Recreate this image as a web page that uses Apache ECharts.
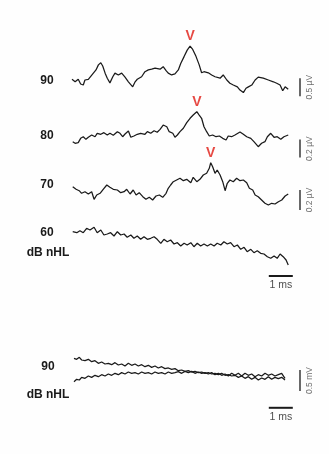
<!DOCTYPE html>
<html>
<head>
<meta charset="utf-8">
<script src="https://cdn.jsdelivr.net/npm/echarts@6/dist/echarts.min.js"></script>
<style>
  html, body { margin: 0; padding: 0; background: #fefefe; }
  #chart { width: 329px; height: 454px; }
</style>
</head>
<body>
<div id="chart"></div>
<script>
// ABR recordings: time in ms after stimulus, amplitude in µV (bottom panel in mV)
const levels = ['90', '80', '70', '60'];

const t90 = [0.00,0.13,0.26,0.36,0.47,0.54,0.68,0.75,0.89,1.00,1.10,1.20,1.28,1.38,1.47,1.58,1.70,1.79,1.93,2.07,2.21,2.35,2.53,2.63,2.72,2.90,3.04,3.18,3.32,3.46,3.67,3.80,3.92,4.01,4.15,4.29,4.43,4.53,4.67,4.80,4.92,5.03,5.17,5.30,5.40,5.50,5.68,5.82,5.96,6.17,6.30,6.45,6.58,6.72,6.89,7.00,7.14,7.25,7.35,7.49,7.63,7.76,7.97,8.18,8.39,8.53,8.67,8.78,8.88,9.01];
const v90 = [0.02,-0.05,0.02,-0.11,-0.14,0.00,0.02,-0.03,0.19,0.28,0.42,0.48,0.39,0.19,0.05,-0.08,0.09,0.19,0.14,0.19,0.08,-0.05,-0.19,-0.05,0.02,0.09,0.23,0.28,0.30,0.33,0.30,0.37,0.26,0.19,0.14,0.17,0.28,0.46,0.65,0.83,0.94,0.85,0.65,0.42,0.20,0.23,0.20,0.14,0.09,0.05,0.14,0.00,-0.09,-0.14,-0.19,-0.28,-0.35,-0.23,-0.19,-0.14,0.00,0.08,0.05,0.00,-0.05,-0.09,-0.14,-0.30,-0.19,-0.26];

const t80 = [0.03,0.13,0.26,0.36,0.47,0.58,0.68,0.82,0.96,1.05,1.20,1.33,1.47,1.58,1.72,1.89,2.00,2.11,2.21,2.35,2.45,2.58,2.72,2.86,3.04,3.14,3.28,3.42,3.55,3.67,3.80,3.95,4.05,4.20,4.29,4.39,4.50,4.64,4.78,4.92,5.05,5.20,5.30,5.40,5.50,5.61,5.72,5.86,6.00,6.14,6.28,6.42,6.51,6.65,6.79,7.00,7.14,7.28,7.45,7.58,7.76,7.90,8.04,8.14,8.28,8.42,8.55,8.70,8.83,9.01];
const v80 = [-0.063,-0.081,-0.074,-0.026,-0.008,-0.037,-0.014,0.011,-0.008,0.030,0.019,0.037,0.011,0.030,0.008,0.048,0.030,-0.008,0.022,0.056,-0.014,0.000,0.019,0.030,0.019,0.048,0.030,0.059,0.041,0.074,0.122,0.103,0.048,0.030,-0.014,0.011,0.048,0.086,0.148,0.197,0.233,0.270,0.233,0.197,0.103,0.048,0.000,0.011,-0.008,0.000,-0.026,-0.044,0.000,-0.008,0.011,0.044,0.019,-0.008,-0.026,-0.063,-0.119,-0.081,-0.063,-0.008,0.030,-0.014,-0.008,-0.037,-0.008,0.011];

const t70 = [0.03,0.17,0.30,0.40,0.54,0.68,0.82,0.92,1.03,1.17,1.30,1.45,1.58,1.72,1.89,2.03,2.17,2.28,2.42,2.55,2.67,2.80,2.95,3.08,3.22,3.36,3.50,3.64,3.78,3.92,4.01,4.11,4.22,4.36,4.50,4.64,4.78,4.95,5.05,5.20,5.33,5.47,5.61,5.72,5.78,5.86,5.96,6.05,6.17,6.28,6.38,6.47,6.58,6.72,6.86,7.00,7.14,7.28,7.39,7.53,7.63,7.76,7.90,8.04,8.18,8.32,8.46,8.60,8.74,8.88,9.01];
const v70 = [0.033,0.007,-0.007,-0.033,-0.017,-0.040,-0.017,-0.093,-0.050,-0.033,0.007,0.050,0.027,0.007,0.000,-0.027,-0.017,0.007,-0.040,0.000,-0.050,-0.027,-0.067,-0.093,-0.073,-0.100,-0.060,-0.050,-0.073,-0.033,0.017,0.050,0.083,0.100,0.117,0.093,0.107,0.073,0.127,0.083,0.107,0.150,0.167,0.217,0.273,0.233,0.167,0.200,0.150,0.083,-0.007,0.067,0.100,0.083,0.117,0.093,0.100,0.073,0.017,0.000,-0.050,-0.067,-0.100,-0.133,-0.150,-0.133,-0.140,-0.117,-0.100,-0.060,-0.040];

const t60 = [0.03,0.20,0.33,0.47,0.61,0.75,0.92,1.05,1.20,1.33,1.47,1.61,1.75,1.89,2.03,2.17,2.30,2.45,2.58,2.72,2.86,3.00,3.14,3.28,3.42,3.55,3.70,3.83,3.97,4.11,4.25,4.39,4.53,4.67,4.80,4.95,5.08,5.22,5.36,5.50,5.64,5.78,5.92,6.05,6.20,6.33,6.47,6.61,6.75,6.89,7.03,7.17,7.30,7.45,7.58,7.72,7.86,8.00,8.14,8.28,8.42,8.55,8.67,8.80,8.92,9.01];
const v60 = [0.083,0.073,0.093,0.073,0.117,0.100,0.127,0.073,0.100,0.050,0.060,0.073,0.040,0.083,0.050,0.060,0.027,0.050,0.017,0.040,0.007,0.033,0.007,0.017,0.033,0.007,-0.033,0.007,-0.017,0.000,-0.040,-0.027,-0.060,-0.033,-0.050,-0.027,-0.067,-0.033,-0.060,-0.040,-0.060,-0.040,-0.060,-0.033,-0.050,-0.017,-0.040,-0.027,-0.067,-0.050,-0.093,-0.073,-0.117,-0.093,-0.127,-0.107,-0.133,-0.140,-0.167,-0.183,-0.160,-0.183,-0.140,-0.167,-0.200,-0.250];

// second panel: two repeated runs at 90 dB nHL (mV)
const tRun = [0.083,0.194,0.306,0.403,0.542,0.681,0.819,0.958,1.097,1.236,1.375,1.514,1.653,1.792,1.931,2.069,2.208,2.347,2.486,2.625,2.764,2.903,3.042,3.181,3.319,3.458,3.597,3.736,3.875,4.014,4.153,4.292,4.431,4.569,4.708,4.847,4.986,5.125,5.264,5.403,5.542,5.681,5.819,5.958,6.097,6.236,6.375,6.514,6.653,6.792,6.931,7.069,7.208,7.347,7.486,7.625,7.764,7.903,8.042,8.181,8.319,8.458,8.597,8.736,8.875];
const vRunA = [0.278,0.254,0.302,0.238,0.222,0.254,0.198,0.222,0.159,0.190,0.143,0.159,0.127,0.175,0.119,0.143,0.095,0.159,0.111,0.143,0.095,0.127,0.079,0.111,0.063,0.095,0.048,0.079,0.032,0.048,0.016,0.032,-0.016,0.000,-0.032,-0.016,-0.048,-0.032,-0.063,-0.048,-0.079,-0.063,-0.095,-0.079,-0.111,-0.079,-0.127,-0.111,-0.143,-0.127,-0.175,-0.143,-0.198,-0.159,-0.222,-0.175,-0.238,-0.190,-0.222,-0.159,-0.222,-0.175,-0.206,-0.175,-0.238];
const vRunB = [-0.278,-0.222,-0.238,-0.175,-0.198,-0.143,-0.175,-0.127,-0.159,-0.111,-0.143,-0.095,-0.127,-0.079,-0.111,-0.063,-0.095,-0.048,-0.079,-0.063,-0.095,-0.048,-0.079,-0.063,-0.095,-0.048,-0.079,-0.063,-0.095,-0.048,-0.079,-0.063,-0.040,-0.079,-0.032,-0.063,-0.032,-0.079,-0.048,-0.079,-0.063,-0.095,-0.063,-0.111,-0.079,-0.127,-0.095,-0.143,-0.079,-0.127,-0.079,-0.143,-0.079,-0.127,-0.095,-0.159,-0.111,-0.143,-0.079,-0.127,-0.095,-0.143,-0.111,-0.079,-0.198];

// calibration bars
const timeBarMs = 1;
const ampBars = [0.5, 0.2, 0.2];   // µV for the 90/80/70 traces
const ampBarRun = 0.5;             // mV for the second panel
const ampBarLabels = ['0.5 µV', '0.2 µV', '0.2 µV'];
const ampBarRunLabel = '0.5 mV';

const INK = '#1a1a1a';
const RED = '#e01c14';
const GREY = '#4a4a4a';

const pair = (t, v) => t.map((x, i) => [x, v[i]]);

// one grid per trace, sharing the same time scale (24 px per ms)
const grids = [
  { left: 72, width: 240, top: 26,  height: 72 },   // 90 dB
  { left: 72, width: 240, top: 100, height: 63 },   // 80 dB
  { left: 72, width: 240, top: 150, height: 70 },   // 70 dB
  { left: 72, width: 240, top: 220, height: 60 },   // 60 dB
  { left: 72, width: 240, top: 349, height: 63 }    // second panel
];
const yRanges = [[-0.5, 1.5], [-0.3, 0.4], [-0.3, 0.4], [-0.4, 0.2], [-1.0, 0.5]];

const xAxes = grids.map((g, i) => ({ gridIndex: i, type: 'value', min: 0, max: 10, show: false }));
const yAxes = grids.map((g, i) => ({ gridIndex: i, type: 'value', min: yRanges[i][0], max: yRanges[i][1], show: false }));

const traceStyle = { color: INK, width: 1.25 };
function trace(idx, data) {
  return {
    type: 'line', xAxisIndex: idx, yAxisIndex: idx, data,
    showSymbol: false, symbol: 'none', clip: false,
    lineStyle: traceStyle, itemStyle: { color: INK }, silent: true
  };
}

// wave V marker placed at the largest positive deflection
function waveV(idx, t, v) {
  let k = 0;
  v.forEach((y, i) => { if (y > v[k]) k = i; });
  return {
    type: 'scatter', xAxisIndex: idx, yAxisIndex: idx, symbolSize: 0,
    data: [[t[k], v[k]]], silent: true,
    label: { show: true, position: 'top', distance: 3, formatter: 'V',
             color: RED, fontSize: 14, fontWeight: 'bold', fontFamily: 'Liberation Sans, Arial, sans-serif' }
  };
}

function vBar(idx, x, y0, len, text) {
  return [
    { type: 'line', xAxisIndex: idx, yAxisIndex: idx, data: [[x, y0], [x, y0 - len]],
      showSymbol: false, symbol: 'none', clip: false, silent: true,
      lineStyle: { color: '#444', width: 1.6 } },
    { type: 'scatter', xAxisIndex: idx, yAxisIndex: idx, symbolSize: 0, silent: true,
      data: [[x + 0.42, y0 - len / 2]],
      label: { show: true, position: 'inside', rotate: 90, formatter: text,
               color: GREY, fontSize: 8.5, fontFamily: 'Liberation Sans, Arial, sans-serif' } }
  ];
}

function hBar(idx, x0, y, len) {
  return [
    { type: 'line', xAxisIndex: idx, yAxisIndex: idx, data: [[x0, y], [x0 + len, y]],
      showSymbol: false, symbol: 'none', clip: false, silent: true,
      lineStyle: { color: INK, width: 2 } },
    { type: 'scatter', xAxisIndex: idx, yAxisIndex: idx, symbolSize: 0, silent: true,
      data: [[x0 + len / 2, y]],
      label: { show: true, position: 'bottom', distance: 4, formatter: len + ' ms',
               color: INK, fontSize: 10.5, fontFamily: 'Liberation Sans, Arial, sans-serif' } }
  ];
}

const series = [
  trace(0, pair(t90, v90)),
  trace(1, pair(t80, v80)),
  trace(2, pair(t70, v70)),
  trace(3, pair(t60, v60)),
  trace(4, pair(tRun, vRunA)),
  trace(4, pair(tRun, vRunB)),
  waveV(0, t90, v90),
  waveV(1, t80, v80),
  waveV(2, t70, v70),
  ...vBar(0, 9.5, 0.05, ampBars[0], ampBarLabels[0]),
  ...vBar(1, 9.5, -0.04, ampBars[1], ampBarLabels[1]),
  ...vBar(2, 9.5, 0.0, ampBars[2], ampBarLabels[2]),
  ...vBar(4, 9.5, 0.0, ampBarRun, ampBarRunLabel),
  ...hBar(3, 8.2, -0.36, timeBarMs),
  ...hBar(4, 8.2, -0.9, timeBarMs)
];

// level captions on the left
const levelY = [81, 136, 185, 233];
const boldText = (x, y, text) => ({
  type: 'text', x, y, silent: true,
  style: { text, fill: INK, font: 'bold 12px "Liberation Sans", Arial, sans-serif',
           textAlign: 'center', textVerticalAlign: 'middle' }
});
const graphic = [
  ...levels.map((lv, i) => boldText(47, levelY[i], lv)),
  boldText(48, 253, 'dB nHL'),
  boldText(48, 367, levels[0]),
  boldText(48, 395, 'dB nHL')
];

const chart = echarts.init(document.getElementById('chart'), null, { renderer: 'canvas' });
chart.setOption({
  backgroundColor: '#fefefe',
  animation: false,
  grid: grids,
  xAxis: xAxes,
  yAxis: yAxes,
  series,
  graphic
});
</script>
</body>
</html>
